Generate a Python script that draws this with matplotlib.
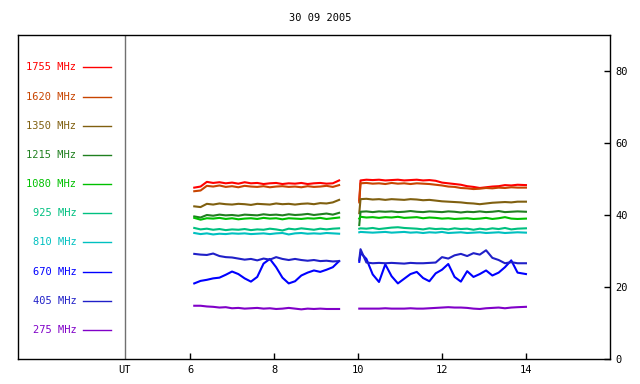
import matplotlib
matplotlib.use("Agg")
from matplotlib import pyplot as plt

# frequencies and colours of the legend, top to bottom
freqs = ["1755 MHz", "1620 MHz", "1350 MHz", "1215 MHz", "1080 MHz",
         "925 MHz", "810 MHz", "670 MHz", "405 MHz", "275 MHz"]
colors = ["#ff0000", "#c84400", "#806010", "#208020", "#00c000",
          "#00c080", "#00c0c0", "#0000ff", "#2020c8", "#8000c8"]
legend_y = [81.0, 72.9, 64.8, 56.7, 48.6, 40.5, 32.4, 24.3, 16.2, 8.1]

# first observing block (UT hours)
t1 = [6.10, 6.25, 6.40, 6.55, 6.70, 6.85, 7.00, 7.15, 7.30, 7.45, 7.60, 7.75,
      7.90, 8.05, 8.20, 8.35, 8.50, 8.65, 8.80, 8.95, 9.10, 9.25, 9.40, 9.55]
s1_1755 = [47.6, 47.9, 49.2, 48.9, 49.1, 48.8, 49.0, 48.7, 49.1, 48.8, 48.9, 48.6,
           48.8, 48.9, 48.6, 48.8, 48.7, 48.9, 48.6, 48.8, 48.9, 48.7, 48.8, 49.6]
s1_1620 = [46.6, 46.8, 48.1, 47.9, 48.2, 47.8, 48.0, 47.7, 48.1, 47.9, 47.8, 48.0,
           47.7, 47.9, 48.0, 47.8, 47.9, 47.7, 48.0, 47.8, 47.9, 48.1, 47.8, 48.3]
s1_1350 = [42.4, 42.2, 43.1, 42.9, 43.2, 43.0, 42.9, 43.1, 43.0, 42.8, 43.1, 43.0,
           42.9, 43.2, 43.0, 43.1, 42.9, 43.1, 43.2, 43.0, 43.3, 43.2, 43.5, 44.2]
s1_1215 = [39.6, 39.3, 40.0, 39.8, 40.1, 39.9, 40.0, 39.8, 40.1, 40.0, 39.9, 40.2,
           40.0, 40.1, 39.9, 40.2, 40.0, 40.1, 40.3, 40.0, 40.2, 40.4, 40.1, 40.6]
s1_1080 = [39.2, 38.7, 39.1, 39.0, 39.2, 38.9, 39.1, 38.8, 39.0, 39.1, 38.9, 39.2,
           39.0, 39.1, 38.8, 39.1, 39.0, 38.9, 39.1, 39.0, 39.2, 38.9, 39.1, 39.3]
s1_925 = [36.4, 36.0, 36.2, 35.9, 36.1, 35.8, 36.0, 35.9, 36.1, 35.8, 36.0, 35.9,
          36.2, 36.0, 35.7, 36.2, 36.0, 36.3, 36.1, 35.9, 36.2, 36.0, 36.2, 36.3]
s1_810 = [35.0, 34.7, 34.9, 34.6, 34.8, 34.7, 34.9, 34.8, 34.9, 34.7, 34.8, 34.9,
          34.7, 34.9, 35.0, 34.6, 34.9, 35.0, 34.8, 34.9, 34.8, 35.0, 34.9, 34.8]
s1_670 = [21.0, 21.7, 22.0, 22.4, 22.6, 23.4, 24.3, 23.6, 22.4, 21.5, 22.8, 26.5,
          27.8, 25.5, 22.6, 21.0, 21.6, 23.2, 24.0, 24.6, 24.2, 24.8, 25.5, 27.2]
s1_405 = [29.2, 29.0, 28.9, 29.3, 28.6, 28.3, 28.2, 27.9, 27.6, 27.8, 27.4, 27.9,
          27.6, 28.3, 27.8, 27.5, 27.8, 27.5, 27.3, 27.5, 27.2, 27.3, 27.1, 27.2]
s1_275 = [14.8, 14.8, 14.6, 14.5, 14.3, 14.4, 14.1, 14.2, 14.0, 14.1, 14.2, 14.0,
          14.1, 13.9, 14.0, 14.2, 14.0, 13.8, 14.0, 13.9, 14.0, 13.9, 13.9, 13.9]

# second observing block
t2 = [10.03, 10.06, 10.20, 10.35, 10.50, 10.65, 10.80, 10.95, 11.10, 11.25,
      11.40, 11.55, 11.70, 11.85, 12.00, 12.15, 12.30, 12.45, 12.60, 12.75,
      12.90, 13.05, 13.20, 13.35, 13.50, 13.65, 13.80, 14.00]
s2_1755 = [44.0, 49.6, 49.8, 49.7, 49.8, 49.6, 49.7, 49.8, 49.6, 49.7, 49.8, 49.6, 49.7, 49.5,
           49.0, 48.8, 48.6, 48.4, 48.0, 47.8, 47.5, 47.7, 47.9, 48.0, 48.3, 48.2, 48.4, 48.3]
s2_1620 = [43.5, 48.8, 48.9, 48.7, 48.8, 48.6, 48.9, 48.7, 48.8, 48.6, 48.8, 48.7, 48.6, 48.4,
           48.2, 47.9, 47.8, 47.5, 47.4, 47.2, 47.3, 47.5, 47.4, 47.6, 47.5, 47.7, 47.6, 47.6]
s2_1350 = [40.5, 44.4, 44.5, 44.3, 44.4, 44.2, 44.4, 44.3, 44.2, 44.4, 44.3, 44.1, 44.2, 44.0,
           43.8, 43.7, 43.6, 43.5, 43.3, 43.2, 43.0, 43.2, 43.4, 43.5, 43.6, 43.5, 43.7, 43.7]
s2_1215 = [37.2, 40.9, 41.0, 40.8, 41.0, 40.9, 41.0, 40.8, 40.9, 41.1, 40.9, 40.8, 41.0, 40.9,
           40.8, 41.0, 40.9, 40.7, 40.9, 40.8, 41.0, 40.8, 40.9, 41.1, 40.8, 40.9, 41.0, 40.9]
s2_1080 = [39.0, 39.5, 39.3, 39.4, 39.2, 39.4, 39.3, 39.5, 39.2, 39.3, 39.4, 39.1, 39.3, 39.2,
           39.0, 39.1, 38.9, 39.0, 39.1, 38.9, 39.0, 39.2, 38.9, 39.1, 39.4, 39.0, 38.9, 39.0]
s2_925 = [36.2, 36.3, 36.2, 36.4, 36.1, 36.3, 36.5, 36.6, 36.4, 36.3, 36.2, 36.0, 36.3, 36.1,
          36.2, 36.0, 36.3, 36.1, 36.2, 35.9, 36.2, 36.0, 36.3, 36.1, 36.4, 36.0, 36.2, 36.3]
s2_810 = [35.2, 35.3, 35.2, 35.1, 35.2, 35.3, 35.1, 35.2, 35.3, 35.1, 35.2, 35.0, 35.2, 35.1,
          35.3, 35.0, 35.1, 35.2, 35.0, 35.1, 35.2, 35.0, 35.1, 35.2, 35.0, 35.1, 35.2, 35.1]
s2_670 = [27.0, 29.5, 27.8, 23.5, 21.4, 26.3, 23.0, 21.0, 22.3, 23.6, 24.2, 22.5, 21.6, 23.8,
          24.8, 26.4, 22.8, 21.5, 24.4, 22.8, 23.6, 24.6, 23.2, 24.0, 25.5, 27.4, 24.0, 23.6]
s2_405 = [27.5, 30.5, 26.8, 26.6, 26.7, 26.6, 26.7, 26.6, 26.5, 26.7, 26.6, 26.6, 26.7, 26.8,
          28.3, 27.9, 28.8, 29.2, 28.6, 29.4, 29.0, 30.2, 28.1, 27.5, 26.6, 26.9, 26.6, 26.6]
s2_275 = [14.0, 14.0, 14.0, 14.0, 14.0, 14.1, 14.0, 14.0, 14.0, 14.1, 14.0, 14.0, 14.1, 14.2,
          14.3, 14.4, 14.3, 14.3, 14.2, 14.0, 13.9, 14.1, 14.2, 14.3, 14.1, 14.3, 14.4, 14.5]

block1 = [s1_1755, s1_1620, s1_1350, s1_1215, s1_1080, s1_925, s1_810, s1_670, s1_405, s1_275]
block2 = [s2_1755, s2_1620, s2_1350, s2_1215, s2_1080, s2_925, s2_810, s2_670, s2_405, s2_275]

x_ticks = [6, 8, 10, 12, 14]
y_ticks = [0, 20, 40, 60, 80]

plt.rcParams["font.family"] = "DejaVu Sans Mono"
plt.rcParams["font.size"] = 7.5

fig = plt.figure(figsize=(6.4, 3.84), dpi=100)
ax = fig.add_axes([0.028, 0.065, 0.925, 0.844])

for name, col, ly, v1, v2 in zip(freqs, colors, legend_y, block1, block2):
    ax.plot(t1, v1, color=col, lw=1.5)
    ax.plot(t2, v2, color=col, lw=1.5)
    # legend entry drawn in the left strip
    ax.text(3.29, ly, name, color=col, ha="right", va="center")
    ax.plot([3.45, 4.12], [ly, ly], color=col, lw=1)

# UT separator line
ax.axvline(4.45, color="#707070", lw=1)

ax.set_xlim(1.9, 16)
ax.set_ylim(0, 90)
ax.set_xticks([4.45] + x_ticks)
ax.set_xticklabels(["UT"] + [str(t) for t in x_ticks])
ax.xaxis.get_major_ticks()[0].tick1line.set_visible(False)
ax.set_yticks(y_ticks)
ax.yaxis.tick_right()
ax.tick_params(axis="both", direction="in", length=4, width=1, pad=4)
for sp in ax.spines.values():
    sp.set_linewidth(1)

fig.text(0.5, 0.952, "30 09 2005", ha="center", va="center")

fig.savefig("out.png", dpi=100)
